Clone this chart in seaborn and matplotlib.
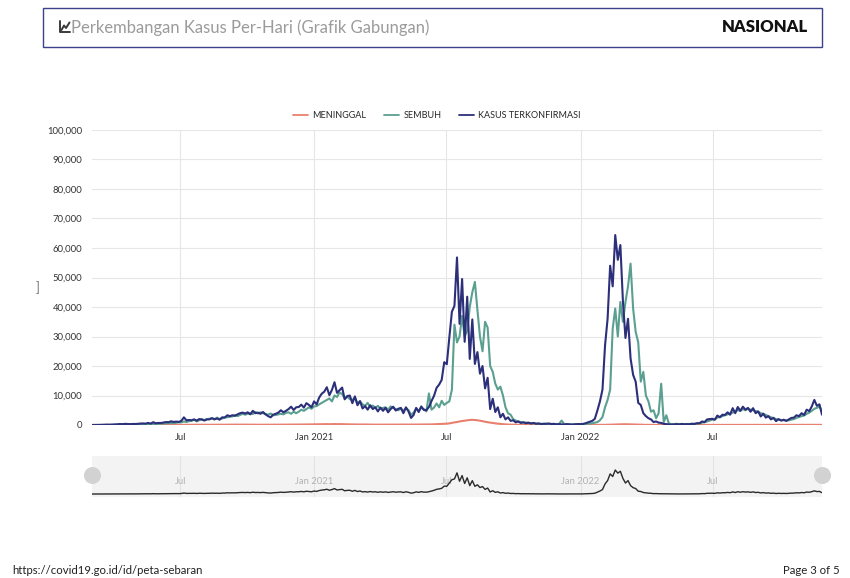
import numpy as np
import pandas as pd
import matplotlib
matplotlib.use("Agg")
import matplotlib.pyplot as plt
import matplotlib.dates as mdates
import matplotlib.transforms as mtransforms
from matplotlib.lines import Line2D
from matplotlib.patches import Rectangle
from matplotlib.ticker import FuncFormatter
import seaborn as sns

sns.set_style("white")
plt.rcParams['font.family'] = ['Lato', 'DejaVu Sans']

# ---------------- data (values in thousands, sampled every 3.5 days) ----------------
start_date = "2020-03-02"
sample_step = "84h"

series_names = ["MENINGGAL", "SEMBUH", "KASUS TERKONFIRMASI"]
series_colors = ["#e8806e", "#5b9f90", "#2c2f7a"]

confirmed_k = [
    # Mar - Jun 2020
    0, 0.002, 0.01, 0.03, 0.07, 0.1, 0.13, 0.11, 0.15,
    0.19, 0.25, 0.33, 0.28, 0.4, 0.33, 0.3, 0.35, 0.35,
    0.4, 0.5, 0.53, 0.48, 0.7, 0.49, 0.95, 0.6, 0.7,
    0.68, 0.85, 1.0, 0.95, 1.25, 1.05, 1.15, 1.05,
    # Jul - Dec 2020
    1.4, 2.6, 1.6, 1.7, 1.6, 1.9, 1.5, 2.0, 1.9,
    1.5, 1.9, 1.9, 2.3, 2.0, 2.2, 1.8, 2.6, 2.5,
    3.3, 3.0, 3.3, 3.1, 3.6, 4.0, 4.2, 3.9, 4.3,
    3.6, 4.8, 4.0, 4.2, 3.8, 4.4, 3.6, 3.0, 2.6,
    3.5, 3.8, 4.2, 5.0, 4.3, 4.8, 5.4, 6.2, 5.1,
    6.0, 6.1, 6.9, 5.9, 7.4, 6.8, 6.0, 8.0,
    # Jan - Jun 2021
    7.0, 9.3, 10.6, 11.3, 12.8, 10.1, 11.9, 14.5, 10.9,
    11.8, 12.7, 8.7, 9.8, 10.0, 7.4, 9.7, 6.7, 8.1,
    5.6, 6.4, 5.2, 6.7, 5.4, 6.0, 4.6, 5.9, 4.8,
    5.8, 4.3, 5.4, 6.2, 4.9, 5.5, 5.8, 4.0, 6.0,
    4.6, 2.4, 3.4, 5.8, 4.4, 6.3, 5.1, 5.0, 6.1,
    8.1, 9.9, 12.6, 13.7, 15.3, 21.3, 20.6,
    # Jul - Dec 2021
    29.7, 38.4, 40.4, 56.8, 34.3, 49.5, 28.2, 43.5, 22.4,
    35.8, 20.7, 24.7, 17.4, 20.0, 12.4, 16.0, 5.4, 8.9,
    4.4, 6.0, 2.6, 3.8, 1.9, 2.6, 1.4, 1.6, 0.9,
    1.2, 0.7, 0.9, 0.6, 0.8, 0.5, 0.7, 0.4, 0.5,
    0.3, 0.4, 0.4, 0.5, 0.3, 0.4, 0.2, 0.3, 0.2,
    0.2, 0.3, 0.2, 0.1, 0.2, 0.3, 0.3,
    # Jan - Jun 2022
    0.3, 0.5, 0.8, 1.1, 1.4, 2.1, 4.9, 8.0, 12.0,
    27.0, 36.0, 54.0, 47.0, 64.4, 56.0, 61.0, 42.0, 29.5,
    36.0, 22.6, 17.0, 14.7, 7.5, 6.8, 4.0, 3.0, 2.3,
    1.9, 1.0, 1.2, 0.8, 0.7, 0.4, 0.3, 0.2, 0.15,
    0.2, 0.3, 0.2, 0.35, 0.25, 0.3, 0.25, 0.4, 0.35,
    0.6, 0.6, 1.2, 1.0, 1.9, 2.0, 2.1,
    # Jul - Nov 2022
    1.8, 3.2, 2.6, 3.5, 3.4, 4.3, 3.5, 5.7, 4.0,
    6.1, 4.8, 6.2, 5.2, 5.8, 4.5, 5.7, 4.0, 4.6,
    2.9, 3.8, 2.5, 3.0, 1.9, 2.4, 1.3, 2.0, 1.5,
    1.8, 1.4, 1.9, 2.4, 2.5, 3.3, 3.0, 4.0, 3.4,
    5.2, 4.7, 6.3, 8.5, 6.5, 7.0, 3.5,
]

recovered_k = [
    # Mar - Jun 2020
    0, 0, 0, 0.001, 0.005, 0.01, 0.02, 0.02, 0.03,
    0.04, 0.06, 0.1, 0.12, 0.15, 0.1, 0.15, 0.12, 0.18,
    0.2, 0.25, 0.3, 0.22, 0.4, 0.25, 0.45, 0.3, 0.4,
    0.45, 0.5, 0.6, 0.55, 0.7, 0.6, 0.75, 0.9,
    # Jul - Dec 2020
    0.9, 1.2, 1.0, 1.3, 1.4, 1.8, 1.2, 1.6, 1.9,
    1.7, 2.0, 2.1, 2.3, 1.8, 2.5, 2.0, 2.2, 2.6,
    2.6, 2.8, 2.9, 3.4, 3.0, 3.4, 3.8, 3.5, 3.8,
    4.0, 3.7, 4.4, 3.9, 4.3, 4.0, 3.7, 3.5, 3.9,
    3.3, 3.4, 3.6, 3.8, 3.6, 4.1, 4.3, 3.8, 4.5,
    4.0, 4.5, 5.2, 4.8, 5.4, 6.0, 5.5, 6.3,
    # Jan - Jun 2021
    6.4, 7.0, 7.5, 8.0, 8.5, 9.0, 8.0, 10.0, 9.5,
    11.0, 10.5, 9.0, 9.6, 8.8, 8.5, 9.2, 7.5, 8.0,
    7.0, 6.5, 7.5, 6.0, 6.6, 5.8, 6.5, 5.5, 5.8,
    6.0, 5.2, 6.3, 5.8, 5.4, 5.0, 5.6, 4.8, 5.7,
    5.0, 3.5, 4.2, 5.5, 4.9, 5.8, 5.4, 4.6, 10.7,
    5.2, 5.9, 7.3, 6.0, 8.2, 6.8, 7.5,
    # Jul - Dec 2021
    8.0, 12.0, 34.0, 28.0, 30.0, 37.0, 30.0, 32.0, 40.0,
    45.0, 48.5, 39.0, 30.0, 25.0, 35.0, 33.0, 20.0, 18.0,
    14.0, 12.0, 13.0, 10.0, 6.0, 4.0, 3.5, 2.0, 1.5,
    1.2, 1.0, 0.9, 0.8, 0.7, 0.6, 0.6, 0.5, 0.5,
    0.4, 0.4, 0.45, 0.35, 0.4, 0.3, 0.35, 0.35, 1.5,
    0.3, 0.25, 0.3, 0.25, 0.3, 0.25, 0.3,
    # Jan - Jun 2022
    0.3, 0.3, 0.4, 0.5, 0.6, 0.8, 1.0, 1.6, 2.7,
    6.0, 8.5, 12.0, 32.7, 39.5, 30.0, 41.7, 35.0, 41.7,
    47.0, 54.7, 39.5, 31.6, 28.0, 14.7, 18.0, 10.0, 8.0,
    4.5, 5.0, 2.3, 4.0, 14.0, 1.0, 3.3, 0.5, 0.3,
    0.3, 0.4, 0.3, 0.35, 0.3, 0.3, 0.35, 0.4, 0.4,
    0.5, 0.5, 0.8, 0.9, 1.2, 1.5, 1.8,
    # Jul - Nov 2022
    1.9, 2.5, 2.8, 3.0, 3.3, 3.6, 3.8, 4.2, 4.5,
    5.0, 4.8, 5.4, 5.0, 5.5, 5.2, 5.0, 4.7, 4.5,
    4.0, 3.8, 3.4, 3.0, 2.6, 2.4, 2.0, 1.8, 1.6,
    1.6, 1.5, 1.6, 1.8, 2.0, 2.4, 2.7, 3.0, 3.2,
    3.8, 4.2, 4.8, 5.5, 5.8, 6.2, 5.0,
]

deaths_k = [
    # Mar - Jun 2020
    0, 0, 0, 0.002, 0.008, 0.015, 0.015, 0.02, 0.02,
    0.025, 0.03, 0.035, 0.03, 0.025, 0.02, 0.02, 0.02, 0.02,
    0.02, 0.02, 0.025, 0.02, 0.025, 0.02, 0.03, 0.025, 0.03,
    0.03, 0.035, 0.04, 0.04, 0.045, 0.04, 0.05, 0.05,
    # Jul - Dec 2020
    0.06, 0.07, 0.06, 0.07, 0.08, 0.07, 0.08, 0.07, 0.08,
    0.07, 0.08, 0.07, 0.09, 0.08, 0.09, 0.08, 0.1, 0.09,
    0.1, 0.11, 0.12, 0.11, 0.12, 0.13, 0.11, 0.12, 0.11,
    0.1, 0.11, 0.1, 0.1, 0.09, 0.1, 0.09, 0.1, 0.1,
    0.1, 0.11, 0.12, 0.11, 0.12, 0.13, 0.14, 0.13, 0.15,
    0.15, 0.16, 0.17, 0.16, 0.18, 0.19, 0.17, 0.2,
    # Jan - Jun 2021
    0.2, 0.22, 0.25, 0.28, 0.3, 0.26, 0.3, 0.32, 0.28,
    0.3, 0.27, 0.25, 0.24, 0.22, 0.2, 0.19, 0.17, 0.18,
    0.16, 0.17, 0.15, 0.14, 0.13, 0.12, 0.12, 0.11, 0.12,
    0.11, 0.12, 0.12, 0.13, 0.12, 0.13, 0.14, 0.12, 0.13,
    0.12, 0.1, 0.13, 0.15, 0.17, 0.16, 0.18, 0.17, 0.19,
    0.2, 0.25, 0.3, 0.33, 0.37, 0.4, 0.45,
    # Jul - Dec 2021
    0.55, 0.73, 0.89, 1.0, 1.2, 1.35, 1.45, 1.6, 1.7,
    1.75, 1.7, 1.6, 1.45, 1.3, 1.1, 0.95, 0.8, 0.7,
    0.55, 0.45, 0.35, 0.28, 0.2, 0.15, 0.12, 0.1, 0.08,
    0.07, 0.06, 0.05, 0.04, 0.035, 0.03, 0.025, 0.02, 0.02,
    0.015, 0.015, 0.012, 0.01, 0.01, 0.01, 0.008, 0.008, 0.008,
    0.007, 0.007, 0.006, 0.006, 0.005, 0.005, 0.006,
    # Jan - Jun 2022
    0.006, 0.005, 0.006, 0.007, 0.008, 0.01, 0.015, 0.02, 0.03,
    0.05, 0.07, 0.1, 0.13, 0.17, 0.2, 0.23, 0.25, 0.26,
    0.24, 0.21, 0.18, 0.15, 0.12, 0.09, 0.07, 0.05, 0.04,
    0.035, 0.03, 0.025, 0.02, 0.02, 0.015, 0.015, 0.012, 0.01,
    0.01, 0.008, 0.008, 0.007, 0.006, 0.006, 0.005, 0.006, 0.007,
    0.008, 0.01, 0.01, 0.012, 0.013, 0.015, 0.017,
    # Jul - Nov 2022
    0.02, 0.02, 0.025, 0.025, 0.03, 0.03, 0.035, 0.035, 0.04,
    0.04, 0.04, 0.04, 0.04, 0.035, 0.035, 0.03, 0.03, 0.03,
    0.025, 0.025, 0.02, 0.02, 0.02, 0.02, 0.018, 0.018, 0.018,
    0.018, 0.02, 0.02, 0.022, 0.022, 0.025, 0.028, 0.03, 0.035,
    0.04, 0.045, 0.05, 0.055, 0.05, 0.05, 0.045,
]

x_tick_dates = ["2020-07-01", "2021-01-01", "2021-07-01", "2022-01-01", "2022-07-01"]
x_tick_labels = ["Jul", "Jan 2021", "Jul", "Jan 2022", "Jul"]
y_ticks = [0, 10000, 20000, 30000, 40000, 50000, 60000, 70000, 80000, 90000, 100000]

title_text = "Perkembangan Kasus Per-Hari (Grafik Gabungan)"
region_text = "NASIONAL"
footer_url = "https://covid19.go.id/id/peta-sebaran"
footer_page = "Page 3 of 5"

# ---------------- build table ----------------
dates = pd.date_range(start_date, periods=len(confirmed_k), freq=sample_step)
wide = pd.DataFrame({
    "date": dates,
    series_names[0]: np.array(deaths_k) * 1000,
    series_names[1]: np.array(recovered_k) * 1000,
    series_names[2]: np.array(confirmed_k) * 1000,
})
long = wide.melt(id_vars="date", var_name="series", value_name="value")
palette = dict(zip(series_names, series_colors))

W, H = 850, 578
fig = plt.figure(figsize=(W / 100, H / 100), dpi=100)
fig.patch.set_facecolor("white")


def fx(x):
    return x / W


def fy(y):
    return 1 - y / H


# ---------------- main chart ----------------
ax = fig.add_axes([fx(92), fy(425), fx(822) - fx(92), fy(130) - fy(425)])
sns.lineplot(data=long, x="date", y="value", hue="series", hue_order=series_names,
             palette=palette, linewidth=1.5, estimator=None, ax=ax, legend=False)
xmin, xmax = mdates.date2num(dates[0]), mdates.date2num(dates[-1])
ax.set_xlim(xmin, xmax)
ax.set_ylim(0, 100000)
ax.set_yticks(y_ticks)
ax.yaxis.set_major_formatter(FuncFormatter(lambda v, p: f"{int(v):,}"))
tick_nums = [mdates.date2num(pd.Timestamp(d)) for d in x_tick_dates]
ax.set_xticks(tick_nums)
ax.set_xticklabels(x_tick_labels)
ax.grid(True, color="#e6e6e6", linewidth=0.8)
ax.set_axisbelow(True)
for s in ax.spines.values():
    s.set_visible(False)
ax.tick_params(axis="both", length=0, labelsize=6.8, colors="#333333")
ax.tick_params(axis="y", pad=7)
ax.tick_params(axis="x", pad=6)
ax.set_xlabel("")
ax.set_ylabel("")

# legend
handles = [Line2D([0], [0], color=c, lw=1.3) for c in series_colors]
fig.legend(handles, series_names, loc="center", bbox_to_anchor=(fx(437), fy(116)),
           ncol=3, frameon=False, fontsize=6.5, handlelength=1.6, columnspacing=2.0,
           handletextpad=0.5)

# ---------------- navigator ----------------
nav = fig.add_axes([fx(92), fy(497), fx(822) - fx(92), fy(456) - fy(497)])
nav.set_facecolor("#f3f3f3")
sns.lineplot(x=dates, y=wide[series_names[2]], color="#2a2a2a", linewidth=1.0,
             ax=nav, zorder=3)
nav.set_xlim(xmin, xmax)
nav.set_ylim(-8000, 102000)
nav.set_xticks([])
nav.set_yticks([])
nav.set_xlabel("")
nav.set_ylabel("")
for s in nav.spines.values():
    s.set_visible(False)
btrans = mtransforms.blended_transform_factory(nav.transData, nav.transAxes)
for t, lab in zip(tick_nums, x_tick_labels):
    nav.axvline(t, color="#e3e3e3", lw=0.8, zorder=1)
    nav.text(t, 0.37, lab, transform=btrans, ha="center", va="center",
             fontsize=6.8, color="#b3b3b3", zorder=2)
nav.scatter([xmin, xmax], [0.53, 0.53], transform=btrans, s=150, color="#d2d2d2",
            clip_on=False, zorder=5, linewidths=0)

# ---------------- header ----------------
fig.add_artist(Rectangle((fx(43), fy(47)), fx(822) - fx(43), fy(8) - fy(47),
                         transform=fig.transFigure, fill=False,
                         edgecolor="#3d4189", linewidth=1.0))
icon_col = "#3a3a3a"
fig.add_artist(Line2D([fx(60), fx(60), fx(70)], [fy(21), fy(32), fy(32)],
                      transform=fig.transFigure, color=icon_col, lw=1.4))
fig.add_artist(Line2D([fx(61.5), fx(64), fx(66), fx(69.5)], [fy(30), fy(25.5), fy(28), fy(22.5)],
                      transform=fig.transFigure, color=icon_col, lw=1.4))
fig.text(fx(71), fy(27.5), title_text, fontsize=12, color="#9b9b9b",
         ha="left", va="center")
fig.text(fx(808), fy(27.5), region_text, fontsize=12, fontweight="heavy",
         color="#111111", ha="right", va="center")

fig.text(fx(38), fy(288), "]", fontsize=9, color="#777777", ha="center", va="center")

# ---------------- footer ----------------
fig.text(fx(12), fy(571), footer_url, fontsize=8.2, color="#222222", ha="left", va="center")
fig.text(fx(840), fy(571), footer_page, fontsize=8.2, color="#222222", ha="right", va="center")

fig.savefig("out.png", dpi=100, facecolor="white")
